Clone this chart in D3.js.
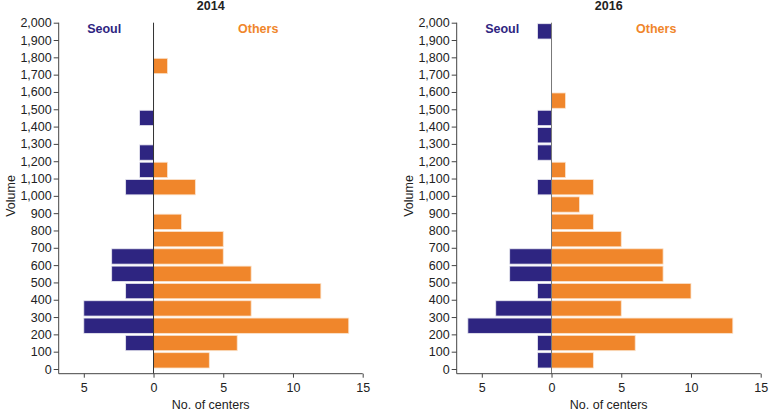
<!DOCTYPE html>
<html>
<head>
<meta charset="utf-8">
<script src="https://d3js.org/d3.v7.min.js"></script>
<style>
  body { margin: 0; background: #fff; font-family: 'Liberation Sans', Arial, sans-serif; }
  .axis text { font-size: 12.5px; fill: #222; font-family: 'Liberation Sans', Arial, sans-serif; }
  .axis path, .axis line { stroke: #444; }
</style>
</head>
<body>
<svg id="chart" width="769" height="413"></svg>
<script>
// volume bins (lower edge), 0..1900 step 100
const bins = [0, 100, 200, 300, 400, 500, 600, 700, 800, 900, 1000, 1100, 1200, 1300, 1400, 1500, 1600, 1700, 1800, 1900];
const yTicks = [0, 100, 200, 300, 400, 500, 600, 700, 800, 900, 1000, 1100, 1200, 1300, 1400, 1500, 1600, 1700, 1800, 1900, 2000];
const xTicks = [-5, 0, 5, 10, 15];
const years = ["2014", "2016"];

const seoul2014  = [0, 2, 5, 5, 2, 3, 3, 0, 0, 0, 2, 1, 1, 0, 1, 0, 0, 0, 0, 0];
const others2014 = [4, 6, 14, 7, 12, 7, 5, 5, 2, 0, 3, 1, 0, 0, 0, 0, 0, 1, 0, 0];
const seoul2016  = [1, 1, 6, 4, 1, 3, 3, 0, 0, 0, 1, 0, 1, 1, 1, 0, 0, 0, 0, 1];
const others2016 = [3, 6, 13, 5, 10, 8, 8, 5, 3, 2, 3, 1, 0, 0, 0, 1, 0, 0, 0, 0];

const seoulColor = "#2e2581";
const othersColor = "#f0862b";

const svg = d3.select("#chart");
const panelData = [
  { year: years[0], seoul: seoul2014, others: others2014 },
  { year: years[1], seoul: seoul2016, others: others2016 }
];

const plotW = 304, plotTop = 22.7, plotBottom = 373.7;

const x = d3.scaleLinear().domain([-6.8, 15]).range([0, plotW]);
const y = d3.scaleLinear().domain([0, 2000]).range([369, 22.7]);

panelData.forEach((p, i) => {
  const g = svg.append("g").attr("transform", `translate(${58.7 + i * 398},0)`);

  // title
  g.append("text")
    .attr("x", plotW / 2).attr("y", 10)
    .attr("text-anchor", "middle")
    .style("font-size", "12.5px").style("font-weight", "bold").style("fill", "#222")
    .text(p.year);

  // bars
  const rows = bins.map((b, k) => ({ bin: b, seoul: p.seoul[k], others: p.others[k] }));
  const barH = y(0) - y(100) - 2;

  g.selectAll(".seoul").data(rows.filter(d => d.seoul > 0)).enter().append("rect")
    .attr("x", d => x(-d.seoul))
    .attr("y", d => y(d.bin + 100) + 1)
    .attr("width", d => x(0) - x(-d.seoul))
    .attr("height", barH)
    .attr("fill", seoulColor)
    .attr("stroke", "#e8e8f0").attr("stroke-width", 0.8);

  g.selectAll(".others").data(rows.filter(d => d.others > 0)).enter().append("rect")
    .attr("x", x(0))
    .attr("y", d => y(d.bin + 100) + 1)
    .attr("width", d => x(d.others) - x(0))
    .attr("height", barH)
    .attr("fill", othersColor)
    .attr("stroke", "#fbe3cc").attr("stroke-width", 0.8);

  // zero line
  g.append("line")
    .attr("x1", x(0)).attr("x2", x(0))
    .attr("y1", plotTop).attr("y2", plotBottom)
    .attr("stroke", i === 0 ? "#333" : "#777").attr("stroke-width", 1);

  // y axis
  const ya = g.append("g").attr("class", "axis")
    .call(d3.axisLeft(y).tickValues(yTicks).tickSize(5).tickPadding(2).tickFormat(d3.format(",")));
  ya.select(".domain").attr("d", `M0,${plotTop}V${plotBottom}`);

  // x axis
  const xa = g.append("g").attr("class", "axis")
    .attr("transform", `translate(0,${plotBottom})`)
    .call(d3.axisBottom(x).tickValues(xTicks).tickSize(4).tickPadding(5).tickFormat(d => Math.abs(d)));
  xa.select(".domain").attr("d", `M0,0H${plotW}`);

  // legend labels
  g.append("text")
    .attr("x", 45.5).attr("y", 33)
    .attr("text-anchor", "middle")
    .style("font-size", "12.5px").style("font-weight", "bold").style("fill", seoulColor)
    .text("Seoul");
  g.append("text")
    .attr("x", 199.5).attr("y", 33)
    .attr("text-anchor", "middle")
    .style("font-size", "12.5px").style("font-weight", "bold").style("fill", othersColor)
    .text("Others");

  // x label
  g.append("text")
    .attr("x", plotW / 2).attr("y", 409)
    .attr("text-anchor", "middle")
    .style("font-size", "12.5px").style("fill", "#222")
    .text("No. of centers");

  // y label
  g.append("text")
    .attr("transform", `translate(-44,196) rotate(-90)`)
    .attr("text-anchor", "middle")
    .style("font-size", "12.5px").style("fill", "#222")
    .text("Volume");
});
</script>
</body>
</html>
